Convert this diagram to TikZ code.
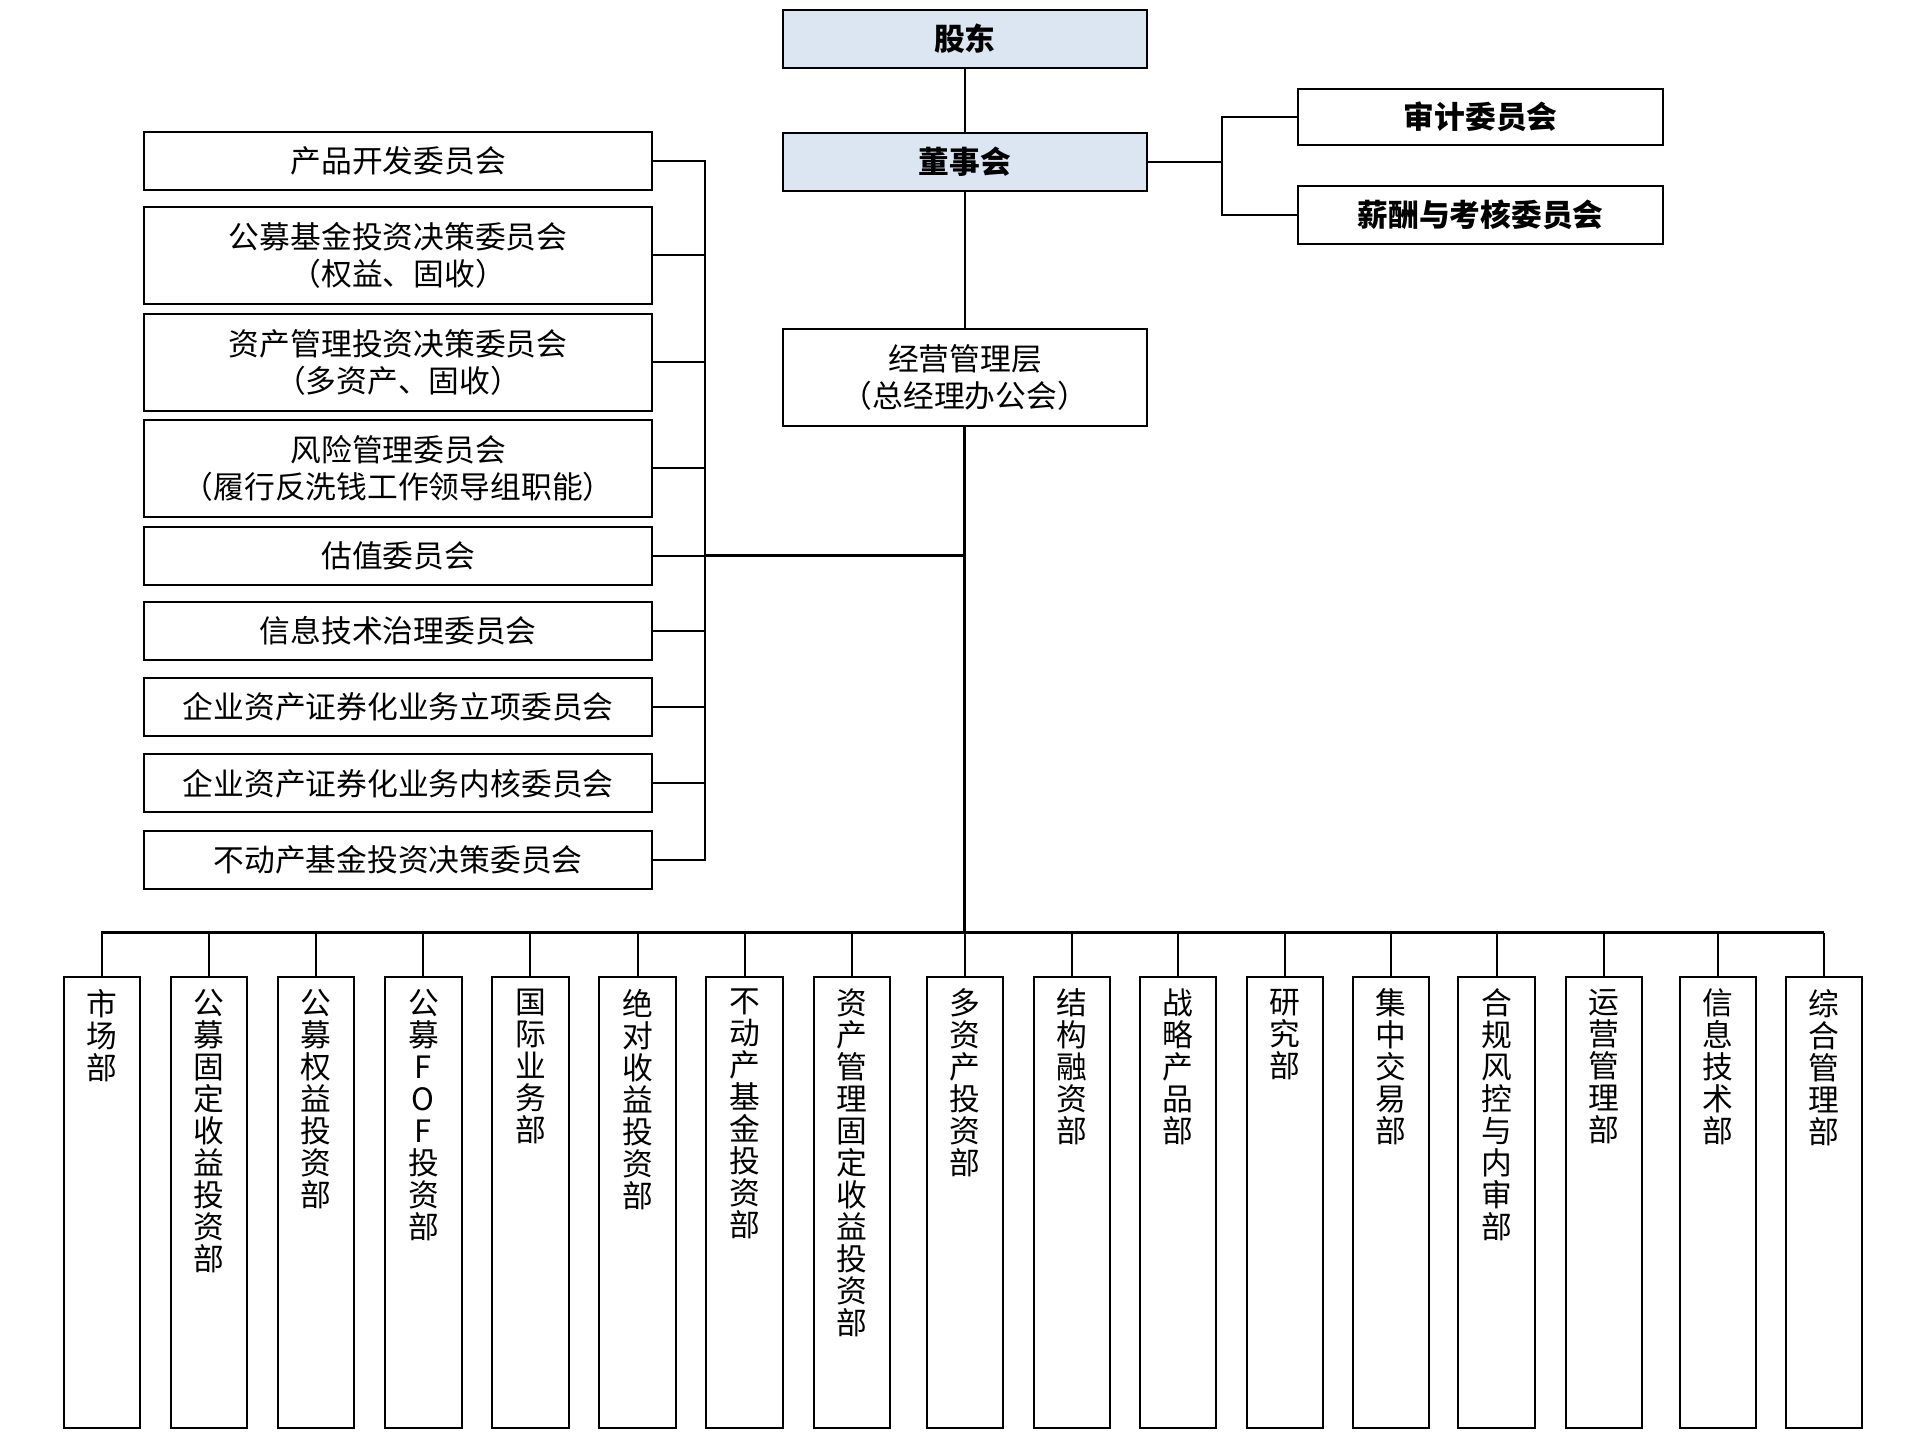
\documentclass[tikz,border=0pt]{standalone}
\usepackage{fontspec}
\setmainfont{Noto Sans CJK SC}
\usetikzlibrary{positioning}
\definecolor{topblue}{RGB}{220,230,242}
\tikzset{
  box/.style={draw, thick, inner sep=0pt, font=\fontsize{12.5}{15}\selectfont, align=center},
  lead/.style={box, fill=topblue, minimum width=148pt, minimum height=23.5pt, font=\fontsize{12.5}{15}\selectfont\bfseries},
  comm/.style={box, minimum width=206.5pt},
  dept/.style={draw, thick, minimum width=31pt, minimum height=183pt, inner sep=0pt},
  vtext/.style={anchor=north, inner sep=0pt, align=center, font=\fontsize{12.5}{13}\selectfont},
  link/.style={thick},
  trunk/.style={line width=1.2pt}
}
\begin{document}
\begin{tikzpicture}[x=0.5pt, y=-0.5pt]
    \useasboundingbox (0,0) rectangle (1560,1170);
    % top line
    \node[lead] (gd) at (784,31.5) {股东};
    \node[lead] (dsh) at (784,131.5) {董事会};
    \node[box, font=\fontsize{12.5}{15}\selectfont\bfseries, minimum width=148pt, minimum height=23pt] (sj) at (1203,95) {审计委员会};
    \node[box, font=\fontsize{12.5}{15}\selectfont\bfseries, minimum width=148pt, minimum height=23.5pt] (xc) at (1203,174.5) {薪酬与考核委员会};
    \node[box, minimum width=148pt, minimum height=39.5pt] (jy) at (784,306.5) {经营管理层\\（总经理办公会）};
    % committees
    \node[comm, minimum height=23.5pt] (c1) at (323.5,130.5) {产品开发委员会};
    \node[comm, minimum height=39.5pt] (c2) at (323.5,207.5) {公募基金投资决策委员会\\（权益、固收）};
    \node[comm, minimum height=39.5pt] (c3) at (323.5,294.5) {资产管理投资决策委员会\\（多资产、固收）};
    \node[comm, minimum height=39.5pt] (c4) at (323.5,380.5) {风险管理委员会\\（履行反洗钱工作领导组职能）};
    \node[comm, minimum height=23.5pt] (c5) at (323.5,451.5) {估值委员会};
    \node[comm, minimum height=23.5pt] (c6) at (323.5,512.5) {信息技术治理委员会};
    \node[comm, minimum height=23.5pt] (c7) at (323.5,574.5) {企业资产证券化业务立项委员会};
    \node[comm, minimum height=23.5pt] (c8) at (323.5,636.5) {企业资产证券化业务内核委员会};
    \node[comm, minimum height=23.5pt] (c9) at (323.5,698.5) {不动产基金投资决策委员会};
    % connectors
    \coordinate (bus) at (784,758);
    \coordinate (cb) at (784,451);
    \draw[link] (gd) -- (dsh);
    \draw[link] (dsh) -- (jy);
    \draw[trunk] (jy) -- (bus);
    \coordinate (br) at (993,131.5);
    \draw[link] (dsh.east) -- (br);
    \draw[link] (br) |- (sj.west);
    \draw[link] (br) |- (xc.west);
    \coordinate (cv) at (573,451);
    \draw[trunk] (cv) -- (cb);
    \foreach \i in {1,...,9}
      \draw[link] (c\i.east) -| (cv);
    % departments
    \draw[trunk] (82,758) -- (1482,758);
    \foreach \n/\x/\t in {1/83/市\\场\\部, 2/170/公\\募\\固\\定\\收\\益\\投\\资\\部, 3/257/公\\募\\权\\益\\投\\资\\部,
      4/344/公\\募\\F\\O\\F\\投\\资\\部, 5/431/国\\际\\业\\务\\部, 6/518/绝\\对\\收\\益\\投\\资\\部,
      7/605/不\\动\\产\\基\\金\\投\\资\\部, 8/692/资\\产\\管\\理\\固\\定\\收\\益\\投\\资\\部, 9/784/多\\资\\产\\投\\资\\部,
      10/871/结\\构\\融\\资\\部, 11/957/战\\略\\产\\品\\部, 12/1044/研\\究\\部, 13/1130/集\\中\\交\\易\\部,
      14/1216/合\\规\\风\\控\\与\\内\\审\\部, 15/1303/运\\营\\管\\理\\部, 16/1396/信\\息\\技\\术\\部, 17/1482/综\\合\\管\\理\\部} {
      \node[dept] (d\n) at (\x,977) {};
      \node[vtext] (t\n) at ([yshift=-5pt]d\n.north) {\t};
      \draw[link] (\x,758) -- (d\n.north);
    }
\end{tikzpicture}
\end{document}
